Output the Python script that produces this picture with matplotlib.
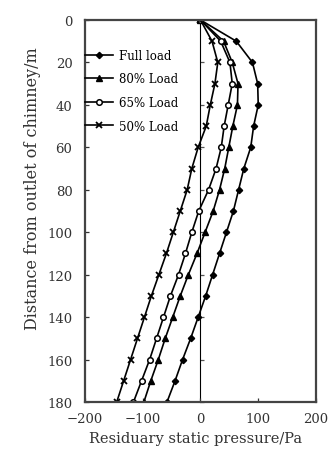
import matplotlib
matplotlib.use("Agg")
import matplotlib.pyplot as plt

plt.rcParams['font.family'] = ['DejaVu Serif']

# distance from chimney outlet (m)
depth = [0, 10, 20, 30, 40, 50, 60, 70, 80, 90, 100, 110, 120, 130, 140, 150, 160, 170, 180]

# residuary static pressure (Pa)
full_load = [0, 62, 90, 99, 100, 92, 87, 75, 66, 57, 45, 33, 21, 9, -4, -17, -31, -44, -58]
load_80 = [0, 40, 55, 65, 64, 56, 49, 42, 33, 22, 8, -6, -21, -35, -48, -61, -73, -86, -98]
load_65 = [0, 35, 51, 55, 48, 41, 36, 27, 14, -3, -15, -26, -38, -52, -64, -76, -88, -102, -116]
load_50 = [0, 20, 30, 25, 17, 10, -4, -15, -23, -35, -47, -59, -72, -85, -97, -109, -121, -133, -145]

labels = ["Full load", "80% Load", "65% Load", "50% Load"]
xticks = [-200, -100, 0, 100, 200]
xticklabels = ["\u2212200", "\u2212100", "0", "100", "200"]
yticks = list(range(0, 181, 20))

fig = plt.figure(figsize=(3.33, 4.56), dpi=100)
ax = fig.add_axes([0.255, 0.116, 0.694, 0.838])

ax.plot(full_load, depth, color="black", lw=1.2, marker="D", ms=3.2, mfc="black", label=labels[0])
ax.plot(load_80, depth, color="black", lw=1.2, marker="^", ms=4, mfc="black", label=labels[1])
ax.plot(load_65, depth, color="black", lw=1.2, marker="o", ms=4, mfc="white", mew=1.1, label=labels[2])
ax.plot(load_50, depth, color="black", lw=1.2, marker="x", ms=4, mew=1.3, label=labels[3])

ax.set_xlim(-200, 200)
ax.set_ylim(180, 0)
ax.set_xticks(xticks)
ax.set_yticks(yticks)
ax.set_xticklabels(xticklabels)
ax.tick_params(direction="in", length=3, width=0.9, labelsize=9.5, colors="#333333")
ax.tick_params(axis="x", pad=7)
ax.tick_params(axis="y", pad=9)
for s in ax.spines.values():
    s.set_linewidth(1.6)
    s.set_color("#444444")

# zero line with small ticks, like an inner axis
zero_ax = ax.secondary_yaxis(0.5)
zero_ax.set_yticks(yticks)
zero_ax.set_yticklabels([])
zero_ax.tick_params(direction="out", length=3, width=0.9, colors="#555555")
zero_ax.spines["left"].set_linewidth(0.9)
zero_ax.spines["left"].set_color("#555555")

ax.set_xlabel("Residuary static pressure/Pa", fontsize=10.5, color="#333333")
ax.xaxis.set_label_coords(0.478, -0.076)
ax.xaxis.label.set_va("top")
ax.set_ylabel("Distance from outlet of chimney/m", fontsize=11.5, color="#333333")
ax.yaxis.set_label_coords(-0.19, 0.56)

ax.legend(loc="upper left", bbox_to_anchor=(0, 0.925), frameon=False, fontsize=8.5,
          handlelength=2.4, handletextpad=0.45, labelspacing=0.9, borderpad=0,
          borderaxespad=0)

fig.savefig("out.png", dpi=100)
